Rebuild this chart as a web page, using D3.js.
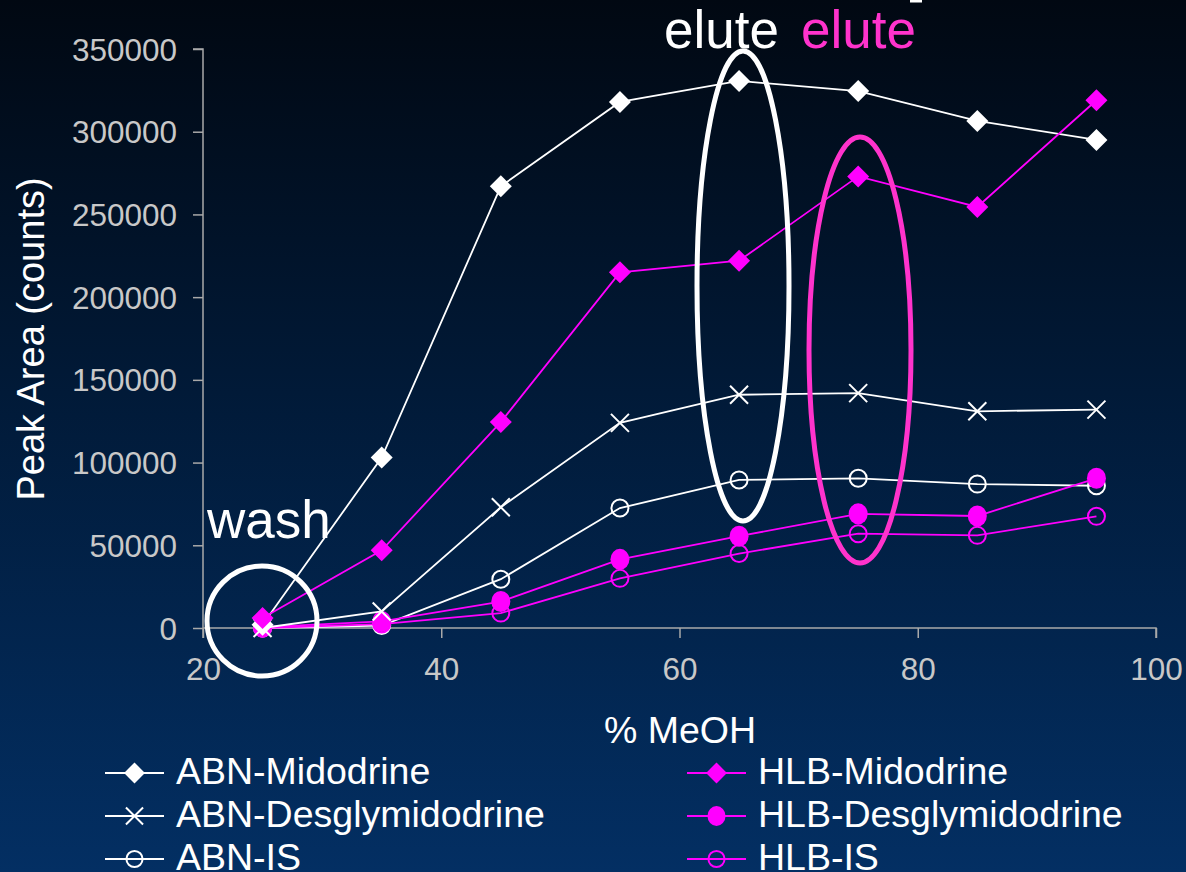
<!DOCTYPE html>
<html><head><meta charset="utf-8">
<script src="https://cdn.jsdelivr.net/npm/d3@7"></script>
<style>html,body{margin:0;padding:0;background:#000;}svg{display:block;}</style>
</head><body>
<script>
const meoh = [25, 35, 45, 55, 65, 75, 85, 95];
const abnMidodrine = [2000, 103000, 267000, 318000, 330700, 324600, 306500, 295000];
const abnDesgly = [0, 10000, 73000, 124000, 141000, 142000, 131000, 132000];
const abnIS = [0, 1500, 29500, 72500, 89500, 90500, 87000, 86000];
const hlbMidodrine = [6000, 47000, 124500, 215000, 222000, 273000, 254500, 319000];
const hlbDesgly = [500, 4000, 16000, 41500, 55500, 69000, 67700, 90500];
const hlbIS = [0, 2400, 9000, 30000, 45000, 57000, 56000, 67500];
const yTicks = [0, 50000, 100000, 150000, 200000, 250000, 300000, 350000];
const xTicks = [20, 40, 60, 80, 100];
const seriesNames = ["ABN-Midodrine","ABN-Desglymidodrine","ABN-IS","HLB-Midodrine","HLB-Desglymidodrine","HLB-IS"];

const W = 1186, H = 872;
const svg = d3.select("body").append("svg").attr("width", W).attr("height", H);
const defs = svg.append("defs");
const grad = defs.append("linearGradient").attr("id","bg").attr("x1",0).attr("y1",0).attr("x2",0).attr("y2",1);
grad.append("stop").attr("offset","0%").attr("stop-color","#010812");
grad.append("stop").attr("offset","45%").attr("stop-color","#011a38");
grad.append("stop").attr("offset","100%").attr("stop-color","#032f63");
svg.append("rect").attr("width",W).attr("height",H).attr("fill","url(#bg)");

const x = d3.scaleLinear().domain([20,100]).range([203,1156]);
const y = d3.scaleLinear().domain([0,350000]).range([628,49]);
const font = "Arial, 'Liberation Sans', sans-serif";
const axisCol = "#a9a9a9", tickTxt = "#c8c8c8";
const MAG = "#ff00ff", WHT = "#ffffff";

// axes
const yAxis = svg.append("g").attr("transform","translate(203,0)")
  .call(d3.axisLeft(y).tickValues(yTicks).tickSize(10).tickPadding(16).tickFormat(d3.format("d")));
const xAxis = svg.append("g").attr("transform","translate(0,628)")
  .call(d3.axisBottom(x).tickValues(xTicks).tickSize(10).tickPadding(20).tickFormat(d3.format("d")));
[yAxis, xAxis].forEach(g => {
  g.select(".domain").attr("stroke", axisCol).attr("stroke-width", 1.5);
  g.selectAll(".tick line").attr("stroke", axisCol).attr("stroke-width", 1.5);
  g.selectAll(".tick text").attr("fill", tickTxt).attr("font-family", font).attr("font-size", 31.5);
});
xAxis.select(".domain").attr("d","M203,0V0H1156V10");
yAxis.select(".domain").attr("d","M-10,49H0V638");
yAxis.selectAll(".tick text").attr("dy","0.35em");

svg.append("text").attr("transform","translate(44,339) rotate(-90)").attr("text-anchor","middle")
  .attr("fill",WHT).attr("font-family",font).attr("font-size",38).text("Peak Area (counts)");
svg.append("text").attr("x",680).attr("y",743).attr("text-anchor","middle")
  .attr("fill",WHT).attr("font-family",font).attr("font-size",37.5).text("% MeOH");

// markers
function marker(g, type, color, cx, cy, scale) {
  scale = scale || 1;
  if (type === "diamond") {
    const s = 11*scale;
    g.append("path").attr("d",`M${cx},${cy-s}L${cx+s},${cy}L${cx},${cy+s}L${cx-s},${cy}Z`).attr("fill",color);
  } else if (type === "x") {
    const s = 9*scale;
    g.append("path").attr("d",`M${cx-s},${cy-s}L${cx+s},${cy+s}M${cx-s},${cy+s}L${cx+s},${cy-s}`)
      .attr("stroke",color).attr("stroke-width",2).attr("fill","none");
  } else if (type === "circle") {
    g.append("circle").attr("cx",cx).attr("cy",cy).attr("r",8.5*scale).attr("fill","none").attr("stroke",color).attr("stroke-width",2);
  } else if (type === "dot") {
    g.append("ellipse").attr("cx",cx).attr("cy",cy).attr("rx",9.5*scale).attr("ry",10.5*scale).attr("fill",color);
  }
}

const series = [
  {name: seriesNames[2], vals: abnIS, color: WHT, m: "circle"},
  {name: seriesNames[5], vals: hlbIS, color: MAG, m: "circle"},
  {name: seriesNames[4], vals: hlbDesgly, color: MAG, m: "dot"},
  {name: seriesNames[1], vals: abnDesgly, color: WHT, m: "x"},
  {name: seriesNames[0], vals: abnMidodrine, color: WHT, m: "diamond"},
  {name: seriesNames[3], vals: hlbMidodrine, color: MAG, m: "diamond"},
];
const line = d3.line().x(d => x(d[0])).y(d => y(d[1]));
series.forEach(s => {
  const pts = meoh.map((m,i) => [m, s.vals[i]]);
  svg.append("path").attr("d", line(pts)).attr("fill","none").attr("stroke", s.color).attr("stroke-width", 1.8);
  const g = svg.append("g");
  pts.forEach(p => marker(g, s.m, s.color, x(p[0]), y(p[1])));
});

// annotations
svg.append("circle").attr("cx",262).attr("cy",621).attr("r",55).attr("fill","none").attr("stroke",WHT).attr("stroke-width",5);
svg.append("text").attr("x",207).attr("y",538).attr("fill",WHT).attr("font-family",font).attr("font-size",53).text("wash");
svg.append("ellipse").attr("cx",743).attr("cy",286).attr("rx",46).attr("ry",235).attr("fill","none").attr("stroke",WHT).attr("stroke-width",5);
svg.append("ellipse").attr("cx",860).attr("cy",350).attr("rx",51).attr("ry",213).attr("fill","none").attr("stroke","#ff33cc").attr("stroke-width",5);
svg.append("text").attr("x",664).attr("y",48).attr("fill",WHT).attr("font-family",font).attr("font-size",53).text("elute");
svg.append("text").attr("x",801).attr("y",48).attr("fill","#ff33cc").attr("font-family",font).attr("font-size",53).text("elute");
svg.append("rect").attr("x",910).attr("y",0).attr("width",12).attr("height",2.5).attr("fill",WHT);

// legend
const legend = [
  {name: seriesNames[0], color: WHT, m: "diamond", lx: 105, ly: 773},
  {name: seriesNames[1], color: WHT, m: "x", lx: 105, ly: 816},
  {name: seriesNames[2], color: WHT, m: "circle", lx: 105, ly: 859},
  {name: seriesNames[3], color: MAG, m: "diamond", lx: 687, ly: 773},
  {name: seriesNames[4], color: MAG, m: "dot", lx: 687, ly: 816},
  {name: seriesNames[5], color: MAG, m: "circle", lx: 687, ly: 859},
];
legend.forEach(l => {
  const g = svg.append("g");
  g.append("line").attr("x1",l.lx).attr("x2",l.lx+59).attr("y1",l.ly).attr("y2",l.ly).attr("stroke",l.color).attr("stroke-width",2);
  marker(g, l.m, l.color, l.lx+29.5, l.ly, 0.95);
  g.append("text").attr("x",l.lx+71).attr("y",l.ly+11).attr("fill",WHT).attr("font-family",font).attr("font-size",37.5).text(l.name);
});
</script>
</body></html>
